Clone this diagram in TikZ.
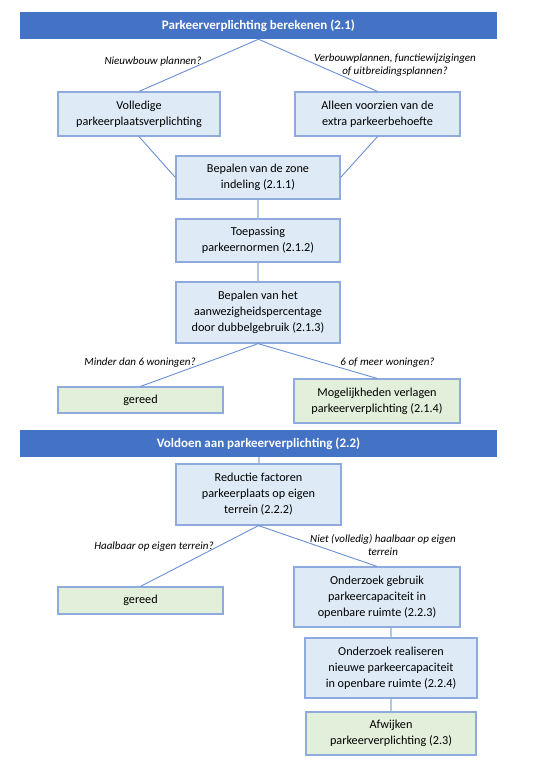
\documentclass[tikz,border=0pt]{standalone}
\usepackage{fontspec}
\setmainfont{Carlito}
\definecolor{banner}{HTML}{4472C4}
\definecolor{boxfill}{HTML}{DEEBF7}
\definecolor{greenfill}{HTML}{E2EFDA}
\definecolor{boxline}{HTML}{8FAADC}
\definecolor{diag}{HTML}{6A8FD4}
\definecolor{vert}{HTML}{B4C7E7}
\begin{document}
\begin{tikzpicture}[x=1pt,y=-1pt,
  bannerbox/.style={fill=banner,draw=none,text=white,inner sep=0pt,
    font=\fontsize{13}{15}\selectfont\bfseries},
  stepbox/.style={fill=boxfill,draw=boxline,line width=1.2pt,inner sep=0pt,align=center,
    font=\fontsize{12.2}{16}\selectfont},
  donebox/.style={stepbox,fill=greenfill},
  lbl/.style={font=\fontsize{11}{13}\selectfont\itshape,align=center,inner sep=0pt},
  dline/.style={draw=diag,line width=0.9pt},
  vline/.style={draw=vert,line width=2pt}]
\useasboundingbox[fill=white] (0,0) rectangle (542,763);
\node[bannerbox,minimum width=477pt,minimum height=27pt] (b1) at (258.5,25.5) {Parkeerverplichting berekenen (2.1)};
\node[stepbox,minimum width=162pt,minimum height=44pt] (vol) at (139,114) {Volledige\\parkeerplaatsverplichting};
\node[stepbox,minimum width=165pt,minimum height=44pt] (all) at (377.5,114) {Alleen voorzien van de\\extra parkeerbehoefte};
\node[stepbox,minimum width=164pt,minimum height=43pt] (zone) at (258,177.5) {Bepalen van de zone\\indeling (2.1.1)};
\node[stepbox,minimum width=164pt,minimum height=43pt] (toep) at (258,240.5) {Toepassing\\parkeernormen (2.1.2)};
\node[stepbox,minimum width=164pt,minimum height=61pt] (aanw) at (258,312.5) {Bepalen van het\\aanwezigheidspercentage\\door dubbelgebruik (2.1.3)};
\node[donebox,minimum width=165pt,minimum height=26pt] (ger1) at (140.5,400) {gereed};
\node[donebox,minimum width=166pt,minimum height=44pt] (mog) at (377,401) {Mogelijkheden verlagen\\parkeerverplichting (2.1.4)};
\node[bannerbox,minimum width=477pt,minimum height=27pt] (b2) at (258.5,443.5) {Voldoen aan parkeerverplichting (2.2)};
\node[stepbox,minimum width=165pt,minimum height=61pt] (red) at (258.5,494.5) {Reductie factoren\\parkeerplaats op eigen\\terrein (2.2.2)};
\node[donebox,minimum width=165pt,minimum height=27pt] (ger2) at (140.5,600.5) {gereed};
\node[stepbox,minimum width=166pt,minimum height=60pt] (ond1) at (377,597) {Onderzoek gebruik\\parkeercapaciteit in\\openbare ruimte (2.2.3)};
\node[stepbox,minimum width=172pt,minimum height=60pt] (ond2) at (391,668) {Onderzoek realiseren\\nieuwe parkeercapaciteit\\in openbare ruimte (2.2.4)};
\node[donebox,minimum width=170pt,minimum height=43pt] (afw) at (391,733.5) {Afwijken\\parkeerverplichting (2.3)};
% connectors
\draw[dline] (b1.south) -- (vol.north);
\draw[dline] (b1.south) -- (all.north);
\draw[dline] (vol.south) -- (zone.west);
\draw[dline] (all.south) -- (zone.east);
\draw[vline] (zone.south) -- (toep.north);
\draw[vline] (toep.south) -- (aanw.north);
\draw[dline] (aanw.south) -- (ger1.north);
\draw[dline] (aanw.south) -- (mog.north);
\draw[vline] (b2.south) -- (red.north);
\draw[dline] (red.south) -- (ger2.north);
\draw[dline] (red.south) -- (ond1.north);
\draw[vline] (ond2.north |- ond1.south) -- (ond2.north);
\draw[vline] (ond2.south) -- (afw.north);
% labels
\node[lbl] (l1) at (153,62) {Nieuwbouw plannen?};
\node[lbl] (l2) at (395,65.5) {Verbouwplannen, functiewijzigingen\\of uitbreidingsplannen?};
\node[lbl] (l3) at (140,363) {Minder dan 6 woningen?};
\node[lbl] (l4) at (387.5,363) {6 of meer woningen?};
\node[lbl] (l5) at (154,547) {Haalbaar op eigen terrein?};
\node[lbl] (l6) at (383,545) {Niet (volledig) haalbaar op eigen\\terrein};
\end{tikzpicture}
\end{document}
